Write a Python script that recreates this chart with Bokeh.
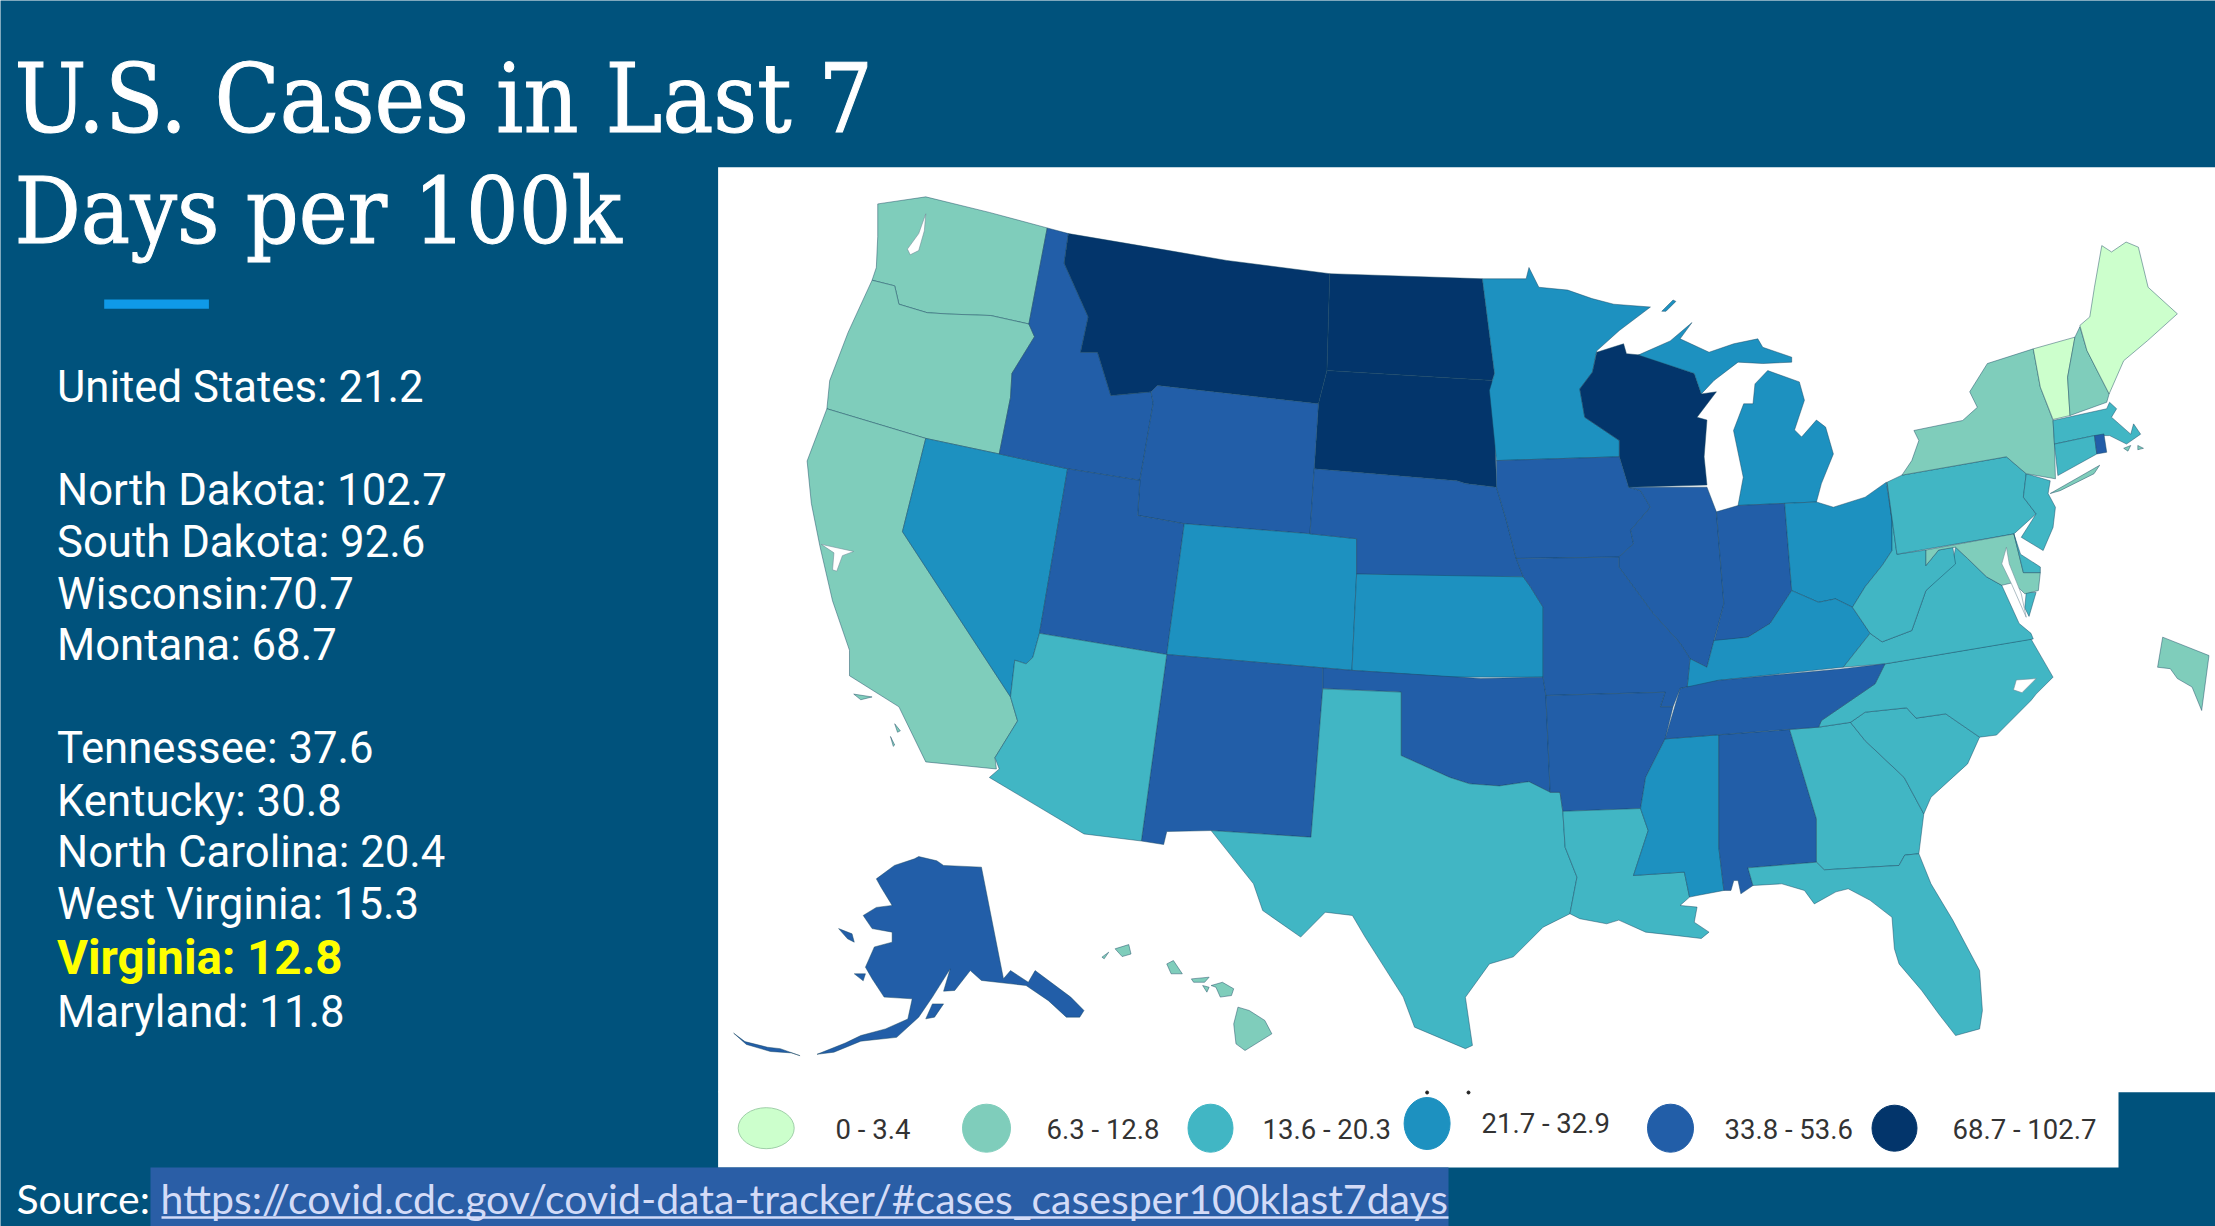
from bokeh.embed import file_html
from bokeh.resources import INLINE
from bokeh.plotting import figure
from bokeh.models import Range1d, ColumnDataSource

BG = "#00527C"
TITLE_LINES = ["U.S. Cases in Last 7", "Days per 100k"]
STAT_LINES = ["United States: 21.2", "North Dakota: 102.7", "South Dakota: 92.6", "Wisconsin:70.7", "Montana: 68.7",
              "Tennessee: 37.6", "Kentucky: 30.8", "North Carolina: 20.4", "West Virginia: 15.3", "Virginia: 12.8", "Maryland: 11.8"]
LEGEND_LABELS = ["0 - 3.4", "6.3 - 12.8", "13.6 - 20.3", "21.7 - 32.9", "33.8 - 53.6", "68.7 - 102.7"]
BAND_COLORS = ["#CCFFCC", "#7FCDBB", "#41B6C4", "#1D91C0", "#225EA8", "#03356B"]
SOURCE_LABEL = "Source:"
SOURCE_URL = "https://covid.cdc.gov/covid-data-tracker/#cases_casesper100klast7days"

# state outlines
WA = [(621,144),(655,139),(700,150),(741,161),(728,229),(701,223),(672,222),(656,221),(636,215),(633,202),(617,198),(620,189),(621,167)]
OR = [(617,198),(633,202),(636,215),(656,221),(672,222),(701,223),(728,229),(732,238),(716,264),(715,281),(707,321),(655,310),(585,289),(587,269),(600,235)]
CA = [(585,289),(655,310),(638.5,376),(715,493),(720,510),(704,536),(705,544),(655,539),(636,500),(601,478),(601,460),(589,425),(580,386),(574,356),(571,326)]
NV = [(655,310),(707,321),(755.4,331.5),(735.5,448),(730.8,465),(726,469.6),(718,467),(715,493),(638.5,376)]
ID = [(741,161),(756,165),(753,186),(770,224),(764.6,249),(776.6,249),(786,279.6),(814.5,277),(816,285),(806.6,339.7),(755.4,331.5),(707,321),(715,281),(716,264),(732,238),(728,229)]
MT = [(756,165),(821,176),(868,184),(941,193.4),(939,262),(933,285.5),(819,272.5),(814.5,277),(786,279.6),(776.6,249),(764.6,249),(770,224),(753,186)]
ND = [(941,193.4),(1049,197),(1054,236),(1057.6,264),(1056,269),(939,262)]
SD = [(939,262),(1056,269),(1057.6,292.6),(1059,344.5),(1037,342),(1031,340),(930,331.5),(933,285.5)]
WY = [(819,272.5),(933,285.5),(930,331.5),(927,377.5),(838,370.4),(805,364.5),(806.6,339.7),(816,285),(814.5,277)]
UT = [(755.4,331.5),(806.6,339.7),(805,364.5),(838,370.4),(825.6,463),(735.5,448)]
CO = [(838,370.4),(927,377.5),(960,381),(960,406),(956.7,474.2),(825.6,463)]
NE = [(930,331.5),(1031,340),(1037,342),(1059,344.5),(1066,368),(1073,395),(1078,408),(1026.5,408),(960,406),(960,381),(927,377.5)]
KS = [(960,406),(1078,408),(1083,415),(1092,429.5),(1092,479),(1026.5,479),(956.7,474.2)]
OK = [(936,472.4),(956.7,474.2),(1048,480),(1092,479),(1094,492),(1097,560.5),(1082,553),(1061,556),(1040,554.5),(1026,550),(991.5,534.5),(991.5,489.6),(936,487)]
TX = [(936,487.3),(991.5,489.6),(991.5,534.5),(1026,550),(1040,554.5),(1061,556),(1082,553),(1097,560.5),(1104,560.5),(1106,574.6),(1107.6,599.4),(1116,620.6),(1111,646.5),(1092,656),(1071,677),(1054,682),(1037,705.6),(1042,739.7),(1037,742),(1001,726.8),(993,705.5),(966,663),(957,647.7),(937.8,645.4),(920.4,663),(893.5,644.2),(887,625.3),(857,587.6),(927.7,592.3)]
NM = [(825.6,463),(936,472.4),(936,487),(927.7,592.3),(857,587.6),(825.6,588.3),(823.4,597.5),(807.6,595)]
AZ = [(735.5,448),(825.6,463),(807.6,595),(767,590),(700,550),(707,544),(704,536),(720,510),(715,493),(718,467),(726,469.6),(730.8,465)]
MN = [(1049,197),(1080,197),(1082,189),(1089,203),(1109.4,205),(1126.6,211),(1142,215),(1168,217),(1146,233.6),(1130,248),(1127,263),(1118,275),(1121.5,295),(1146,311.5),(1146,323),(1059,325.7),(1054,276),(1057.6,264),(1054,236)]
ISLE_ROYALE = [(1176,220),(1184,212),(1186,213),(1179,220)]
WI = [(1130,249),(1149,243),(1151,250),(1161,251),(1199,264),(1204,278.5),(1214.7,277),(1201,295),(1208,297),(1206,323),(1208,343),(1152.5,344.5),(1146,323),(1146,311.5),(1121.5,295),(1118,275),(1127,263)]
MI_UP = [(1159.4,251),(1182,241),(1197.4,228),(1189,239.5),(1209.5,249),(1227,243),(1244,239.5),(1247.5,245.5),(1268,252.5),(1268,256),(1247.5,257),(1230,256),(1213,269),(1204,278.5),(1199,264)]
MI_LP = [(1251,262),(1273.4,270),(1277,283),(1270,304),(1275,309),(1285.5,297),(1292,302),(1297.5,321),(1289,342),(1285.5,355),(1230,357.5),(1233.7,337.5),(1226.8,304.4),(1234,285.5),(1240.6,285.5),(1242,271.4)]
IA = [(1059,325.7),(1146,323),(1152.5,344.5),(1161,347),(1168,358.7),(1154,375),(1156,384.6),(1145.6,394),(1073,395),(1066,368),(1059,344.5)]
IL = [(1152.5,344.5),(1208,344.5),(1214.7,362),(1220,427),(1213,453),(1208,472),(1196,466),(1189,455),(1170,434),(1145.6,401),(1145.6,394),(1156,384.6),(1154,375),(1168,358.7),(1161,347)]
IN = [(1214.7,362),(1230,357.5),(1263,356),(1268,417.7),(1252.7,441),(1237,450.7),(1213,454),(1220,427)]
OH = [(1263,356),(1285.5,355),(1297.5,358.7),(1320,351.6),(1335,341),(1339,368),(1339,389.4),(1332,400),(1320,415),(1311,429.5),(1299,423.6),(1287,426),(1268,417.7)]
KY = [(1268,417.7),(1287,426),(1299,423.6),(1311,429.5),(1323.5,448),(1304.5,472),(1215,481.4),(1215,486),(1194,486),(1196,466),(1208,472),(1213,453),(1237,450.7),(1252.7,441)]
TN = [(1334,469.6),(1327,483.7),(1289,509.7),(1287,514.4),(1178.4,522.7),(1189,487),(1215,481.4),(1304.5,473)]
MO = [(1073,395),(1145.6,394),(1145.6,401),(1170,434),(1189,455),(1196,466),(1194,486),(1189,487),(1184,500),(1175,500),(1178.4,489.7),(1094,492),(1092,479),(1092,429.5),(1083,415),(1078,408)]
AR = [(1094,492),(1178.4,489.7),(1175,500),(1184,500),(1178.4,522.7),(1164.6,550),(1161,572),(1106,574),(1104,560.5),(1097,560.5)]
LA = [(1106,574),(1161,572),(1166.4,587.6),(1156,619.4),(1192,617),(1195.7,634.7),(1189,640.6),(1201,641.8),(1199,652.5),(1209.5,659.5),(1204,664),(1187,662),(1164.6,659.5),(1145.6,651),(1137,653.6),(1118,650),(1111,646.5),(1116,620.6),(1107.6,599.4)]
MS = [(1178.4,522.7),(1216.4,519.8),(1216.4,599.4),(1220,630),(1201,633.6),(1195.7,634.7),(1192,617),(1156,619.4),(1166.4,587.6),(1161,572),(1164.6,550)]
AL = [(1216.4,519.8),(1266.5,516),(1285.5,579.3),(1285.5,610),(1237,614),(1240.6,626.5),(1232,632.4),(1230,623),(1227,623),(1225,630),(1220,630),(1216.4,599.4)]
GA = [(1266.5,516),(1287,514.4),(1309.6,511),(1320,524),(1347.6,550),(1361.5,575.8),(1358,604),(1348,605),(1344,612.3),(1291,615.4),(1285.5,610),(1285.5,579.3)]
SC = [(1309.6,511),(1320,503.8),(1349.4,500.7),(1356,508),(1377,505),(1401,521.5),(1392.5,540.4),(1366.6,564),(1361.5,575.8),(1347.6,550),(1320,524)]
NC = [(1334,469.6),(1437.4,452),(1453,479),(1441,491),(1437.4,495.5),(1413,520),(1401,521.5),(1377,505),(1356,508),(1349.4,500.7),(1320,503.8),(1309.6,511),(1287,514.4),(1289,509.7),(1327,483.7)]
VA = [(1304.5,472),(1323.5,448),(1332,454),(1353,446),(1363,417.7),(1382,398.8),(1384,387),(1392.5,395),(1406,408),(1416.7,414),(1429,441),(1437.4,448),(1439,452),(1334,469.6)]
VA_SHORE = [(1434,419),(1441,419),(1436,436),(1433,430)]
WV = [(1335.5,341),(1342.5,392),(1363,389),(1363,400),(1372,389),(1382,387),(1384,398.8),(1363,417.7),(1353,446),(1332,454),(1323.5,448),(1311,429.5),(1320,415),(1332,400),(1339,389.4),(1339,368)]
PA = [(1346,336),(1335.5,341),(1342.5,392),(1425.3,377.6),(1441,363.4),(1432,351.6),(1434,335),(1420,323)]
MD = [(1363,389),(1425.3,377.6),(1432,405),(1444,405),(1442.6,417.7),(1433,420),(1425,412),(1416.7,414),(1406,408),(1392.5,395),(1384,387),(1372,389),(1363,400)]
DE = [(1425.3,377.6),(1430,392),(1444,401),(1444,405),(1432,405)]
NJ = [(1434,335),(1451,340),(1449.5,349),(1454.7,358.7),(1453,373),(1446,389.4),(1430.5,380),(1441,363.4),(1432,351.6)]
NY = [(1346,336),(1353,325.7),(1358,311.5),(1354.5,304.4),(1389,297.3),(1399.4,288),(1394,277),(1406.5,257),(1439,246.6),(1444,273.7),(1453,297.3),(1454,314),(1454.7,338.6),(1434,335),(1420,323)]
LI = [(1451,349),(1486,329),(1482,335),(1458,347)]
VT = [(1439,246.6),(1468.5,238.3),(1463.3,266.7),(1465,293.8),(1453,296.6),(1444,273.7)]
NH = [(1468.5,238.3),(1472,231),(1477,247.8),(1492.7,278.5),(1491,284.4),(1465,293.8),(1463.3,266.7)]
ME = [(1472,230),(1479,224),(1482.3,203),(1487.5,173.5),(1494.4,178),(1504.7,171),(1513.4,174.6),(1520.3,203),(1541,221.8),(1520,240.7),(1503,255),(1492.7,278.5),(1477,247.8)]
MA = [(1453,297.3),(1491,289),(1493,284.4),(1498,289),(1494.4,295),(1508,307),(1510,299.7),(1515,307),(1505,314),(1493,308),(1482.3,308),(1454,314)]
CT = [(1454,314),(1482.3,308),(1484,321),(1456.4,336.3)]
RI = [(1482.3,308),(1489,306.8),(1491,319.8),(1484,321)]
NANTUCKET = [(1503,317),(1508,315),(1506,319)]
MARTHA = [(1513,315),(1517,317),(1513,318)]
DC = [(1530.6,450.7),(1563.4,463.7),(1558.2,502.6),(1551.4,486),(1541,480),(1536,473),(1527,472)]
FL = [(1291,615.4),(1344,612.3),(1348,605),(1358,604),(1366.6,625.3),(1382,651),(1401,686.7),(1403,715),(1401,728),(1384,732.7),(1372,717.3),(1360,700.8),(1344,682),(1340.7,671.3),(1339,649),(1323.5,637),(1308,628.8),(1299.3,631),(1284,639.5),(1277,630),(1261,625.3),(1240.6,626.5),(1237,614),(1285.5,610)]
AK = [(650,606),(662.8,609),(667.6,612.3),(694.4,613.5),(710,692.5),(715,686.7),(727.6,695),(732.4,686.7),(757.6,705.5),(767,715),(764,719.7),(754.5,719.7),(741.8,708),(726,697.3),(694.4,693.7),(686.5,686.7),(675.5,700.8),(667.6,701.3),(672.3,685.5),(659.7,705.5),(650,719.7),(634.4,734),(609,736.7),(590,744.5),(578,746),(598,738),(609,732.7),(626.5,728),(642.3,721),(645.4,706.7),(625.5,705.5),(617,692.5),(612.3,684.3),(618.6,670),(631.2,666.6),(631.2,659.5),(617,657),(610.7,647.7),(620,642),(631.2,640.6),(623.3,627.7),(620,621.8),(632.8,612.3),(647,607.6)]
AK_STLAWRENCE = [(593.3,657),(602.8,660.7),(604.4,666.6),(599.6,664.2)]
AK_NUNIVAK = [(604.4,689),(612.3,689),(610.7,694)]
AK_KODIAK = [(659.7,710.3),(667.6,710.3),(661.2,719.7),(655,720.9)]
AK_ALEUT = [(519,731),(527,737),(543,741),(552,742),(566,747),(560,745),(545,744),(528,739)]
HI_NIIHAU = [(779.7,677.2),(784.5,673.7),(781.3,678.4)]
HI_KAUAI = [(789,671.3),(798.7,668.3),(800.3,675),(794,676.8)]
HI_OAHU = [(825.6,682),(830.3,679.6),(836.6,689),(828.7,689)]
HI_MOLOKAI = [(843,692.6),(855.6,691.4),(852.4,695),(844.6,695)]
HI_LANAI = [(851,697.3),(855.6,698.5),(854,702)]
HI_MAUI = [(857,697.3),(865,695),(873,699.6),(871.4,704.4),(863.5,705.5),(860.4,698.5)]
HI_BIG = [(876,712.6),(884,715),(895,722),(900,731.5),(881,743.3),(874.6,738.6),(873,724.5)]
CH_ISLE_1 = [(604,491),(617,493),(609,495)]
CH_ISLE_2 = [(633,512),(637,517),(635,518)]
CH_ISLE_3 = [(630,521),(633,527),(632,528)]
PUGET = [(655,151),(654,163),(650,177),(644,180),(642,176),(650,165)]
SF_BAY = [(581,385),(604,390),(596,393),(592,404),(589,403),(590,391)]
CHESAPEAKE = [(1420,387),(1416.7,398.8),(1423.6,413),(1434,436.6),(1430.5,420),(1422,398.8)]
PAMLICO = [(1427,481),(1441,480),(1431,490),(1425,488)]

SHAPES = [
    (WA,1),(OR,1),(CA,1),(NV,3),(ID,4),(MT,5),(ND,5),(SD,5),(WY,4),(UT,4),(CO,3),(NE,4),(KS,3),(OK,4),(NM,4),(TX,2),(AZ,2),
    (MN,3),(ISLE_ROYALE,3),(WI,5),(MI_UP,3),(MI_LP,3),(IA,4),(IL,4),(IN,4),(OH,3),(KY,3),(MO,4),(AR,4),(LA,2),(MS,3),(AL,4),(GA,2),(SC,2),
    (NC,2),(VA,2),(VA_SHORE,2),(TN,4),(WV,2),(PA,2),(MD,1),(DE,2),(NJ,2),(NY,1),(LI,1),(VT,0),(NH,1),(ME,0),(MA,2),(CT,2),(RI,4),
    (NANTUCKET,1),(MARTHA,1),(DC,1),(FL,2),(AK,4),(AK_STLAWRENCE,4),(AK_NUNIVAK,4),(AK_KODIAK,4),(AK_ALEUT,4),
    (HI_NIIHAU,1),(HI_KAUAI,1),(HI_OAHU,1),(HI_MOLOKAI,1),(HI_LANAI,1),(HI_MAUI,1),(HI_BIG,1),
    (CH_ISLE_1,1),(CH_ISLE_2,1),(CH_ISLE_3,1),
]
WATER = [PUGET, SF_BAY, CHESAPEAKE, PAMLICO]

SCALE = 2215 / 1568
p = figure(width=2215, height=1226, output_backend="svg", toolbar_location=None,
           x_range=Range1d(0, 2215), y_range=Range1d(1226, 0),
           x_axis_type=None, y_axis_type=None, min_border=0,
           background_fill_color=BG, border_fill_color=BG, outline_line_color=None)

# panels
p.quad(left=[717.6], right=[2215], top=[166.7], bottom=[1091.7], fill_color="white", line_color=None)
p.quad(left=[717.6], right=[2118], top=[1091], bottom=[1167], fill_color="white", line_color=None)
p.quad(left=[150], right=[1448], top=[1167], bottom=[1226], fill_color="#2A5EA6", line_color=None)
p.quad(left=[103.7], right=[208.4], top=[299], bottom=[308.3], fill_color="#0F9AE8", line_color=None)

# map
src = ColumnDataSource(dict(
    xs=[[q[0] * SCALE for q in s] for s, _ in SHAPES],
    ys=[[q[1] * SCALE for q in s] for s, _ in SHAPES],
    c=[BAND_COLORS[b] for _, b in SHAPES],
))
p.patches("xs", "ys", source=src, fill_color="c", line_color="#17455F", line_alpha=0.45, line_width=1)
p.patches([[q[0] * SCALE for q in s] for s in WATER], [[q[1] * SCALE for q in s] for s in WATER],
          fill_color="white", line_color="#6f8a96", line_alpha=0.7, line_width=0.8)

# legend
lx = [765.7, 986, 1210, 1426.6, 1670, 1894]
ly = [1127.7, 1127.7, 1127.7, 1123, 1127.7, 1127.7]
lw = [56, 48, 45, 46, 46, 45]
lh = [41, 48, 48, 52, 48, 46]
p.ellipse(x=lx, y=ly, width=lw, height=lh, fill_color=BAND_COLORS, line_color=["#9fcfa8"] + BAND_COLORS[1:], line_width=1)
tx = [835, 1046, 1262, 1481, 1724, 1952]
ty = [1129, 1129, 1129, 1123, 1129, 1129]
p.text(x=tx, y=ty, text=LEGEND_LABELS, text_font=dict(value="Roboto"), text_font_size="27.5px",
       text_color="#333333", text_baseline="alphabetic", text_align="left")
p.scatter(x=[1426.6, 1468], y=[1092, 1092], size=3, color="#222222")

# title
p.text(x=[14], y=[98], text=[TITLE_LINES[0]], text_font=dict(value="DejaVu Serif Condensed"), text_font_size="95px",
       text_color="white", text_outline_color="white", text_baseline="alphabetic", text_align="left")
p.text(x=[14], y=[211], text=[TITLE_LINES[1]], text_font=dict(value="DejaVu Serif Condensed"), text_font_size="92px",
       text_color="white", text_outline_color="white", text_baseline="alphabetic", text_align="left")

# stats
base = [386, 489, 541, 593.5, 644.6, 747.5, 800.4, 851.5, 903.6, 957.8, 1011.9]
for line, y in zip(STAT_LINES, base):
    hi = line.startswith("Virginia")
    p.text(x=[56.5], y=[y], text=[line], text_font=dict(value="Roboto"), text_font_size="47.5px" if hi else "43.7px",
           text_color="#FFFF00" if hi else "white", text_font_style="bold" if hi else "normal",
           text_baseline="alphabetic", text_align="left")

# source
p.text(x=[16], y=[1198], text=[SOURCE_LABEL], text_font=dict(value="Lato"), text_font_size="41px",
       text_color="white", text_baseline="alphabetic", text_align="left")
p.text(x=[160], y=[1198], text=[SOURCE_URL], text_font=dict(value="Lato"), text_font_size="41px",
       text_color="#D3DBF7", text_baseline="alphabetic", text_align="left")
p.segment(x0=[161], x1=[1448], y0=[1217], y1=[1217], line_color="#D3DBF7", line_width=2.5)

open("out.html", "w").write(file_html(p, INLINE))
